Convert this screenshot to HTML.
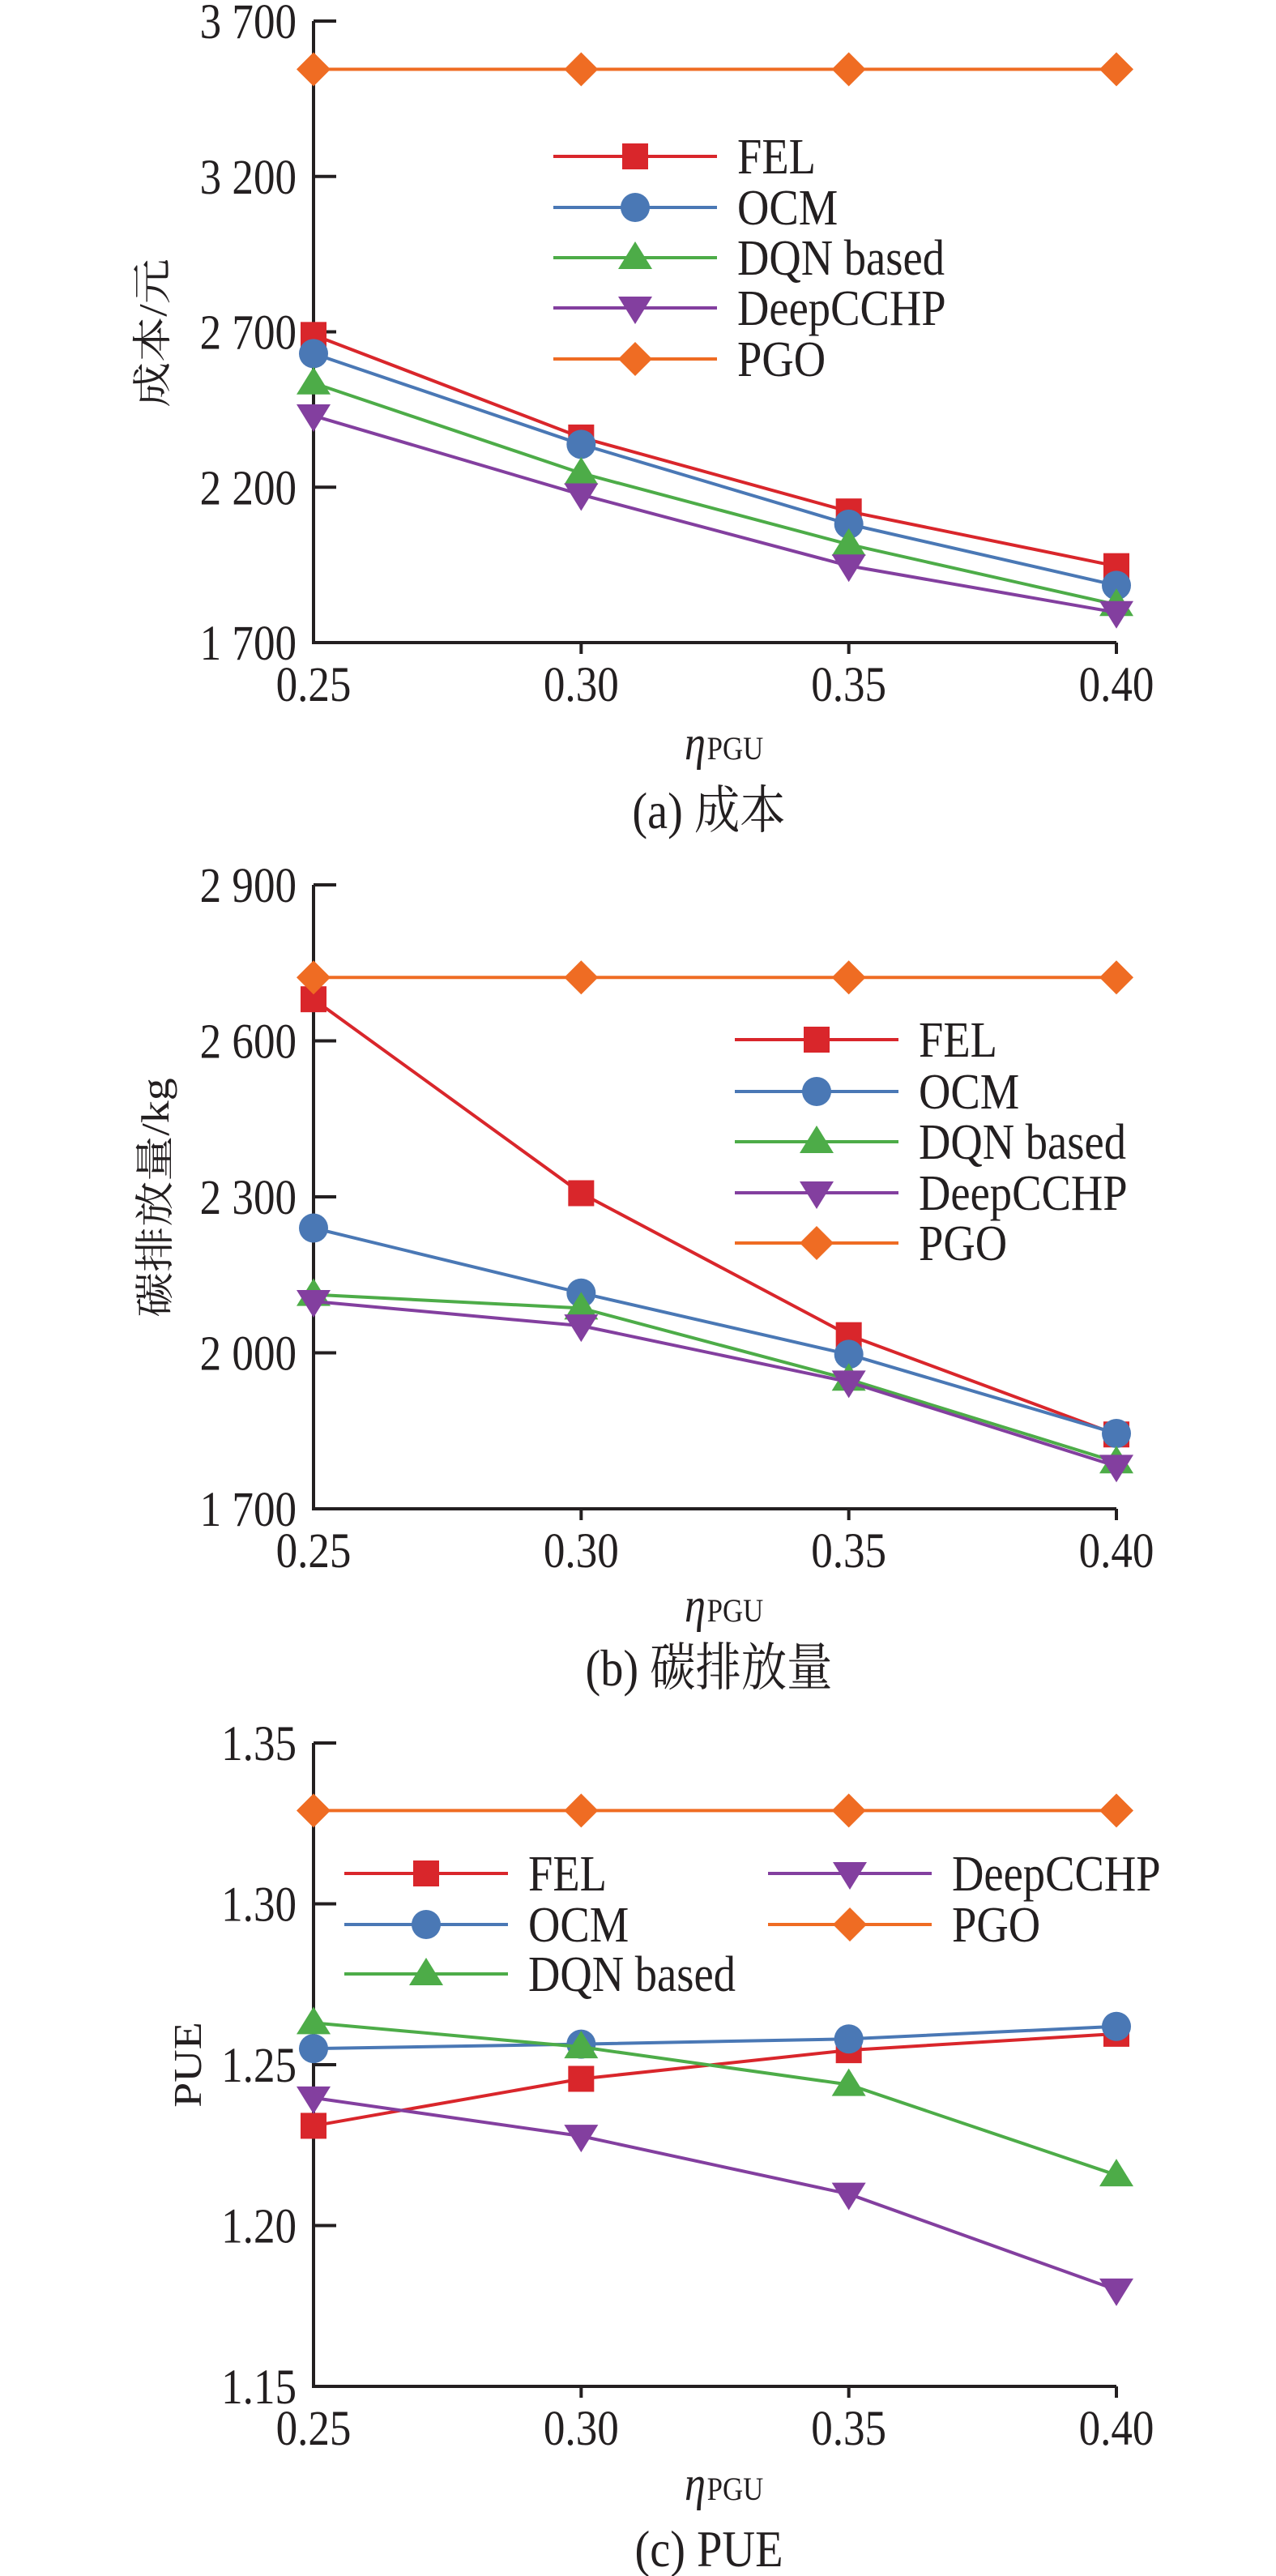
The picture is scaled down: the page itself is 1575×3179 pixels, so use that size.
<!DOCTYPE html>
<html><head><meta charset="utf-8">
<style>
html,body{margin:0;padding:0;background:#fff;}
svg{display:block;}
text{font-family:"Liberation Serif","Noto Serif CJK SC",serif;fill:#231f20;}
</style></head>
<body>
<svg id="fig" width="1575" height="3179" viewBox="0 0 1575 3179" xmlns="http://www.w3.org/2000/svg" font-family="'Liberation Serif', 'Noto Serif CJK SC', serif"></svg>
<script>
// shared data
const xCats = [0.25, 0.30, 0.35, 0.40];
const xTickLabels = ["0.25", "0.30", "0.35", "0.40"];
const seriesNames = ["FEL", "OCM", "DQN based", "DeepCCHP", "PGO"];

// (a) cost
const costFEL = [2690, 2360, 2122, 1946];
const costOCM = [2630, 2338, 2081, 1884];
const costDQN = [2535, 2245, 2016, 1822];
const costDeep = [2430, 2176, 1947, 1797];
const costPGO = [3545, 3545, 3545, 3545];
const costTicks = [1700, 2200, 2700, 3200, 3700];
const costTickLabels = ["1 700", "2 200", "2 700", "3 200", "3 700"];

// (b) carbon
const carbFEL = [2680, 2307, 2034, 1843];
const carbOCM = [2240, 2115, 1997, 1845];
const carbDQN = [2112, 2086, 1949, 1790];
const carbDeep = [2099, 2052, 1944, 1782];
const carbPGO = [2722, 2722, 2722, 2722];
const carbTicks = [1700, 2000, 2300, 2600, 2900];
const carbTickLabels = ["1 700", "2 000", "2 300", "2 600", "2 900"];

// (c) PUE
const pueFEL = [1.231, 1.2456, 1.2545, 1.2596];
const pueOCM = [1.255, 1.2564, 1.258, 1.2619];
const pueDQN = [1.263, 1.2555, 1.2438, 1.2157];
const pueDeep = [1.2397, 1.2278, 1.2098, 1.180];
const puePGO = [1.329, 1.329, 1.329, 1.329];
const pueTicks = [1.15, 1.20, 1.25, 1.30, 1.35];
const pueTickLabels = ["1.15", "1.20", "1.25", "1.30", "1.35"];

const NS = "http://www.w3.org/2000/svg";
const svg = document.getElementById("fig");
const colors = ["#d9262b", "#4a78b5", "#4dac48", "#833f9f", "#ef6c23"];
const markers = ["square", "circle", "up", "down", "diamond"];
const slugs = ["fel", "ocm", "dqn", "deepcchp", "pgo"];
const FONT = "'Liberation Serif', 'Noto Serif CJK SC', serif";

function mk(tag, attrs, parent) {
  const e = document.createElementNS(NS, tag);
  for (const k in attrs) e.setAttribute(k, attrs[k]);
  (parent || svg).appendChild(e);
  return e;
}
function txt(parent, x, y, str, size, anchor, sx) {
  const t = mk("text", {x: 0, y: 0, "font-size": size, "text-anchor": anchor || "start", "font-family": FONT,
    transform: `translate(${x},${y}) scale(${sx || 0.87},1)`}, parent);
  t.textContent = str;
  return t;
}
function marker(g, type, cx, cy, color) {
  let e;
  if (type === "square") e = mk("rect", {x: cx - 16, y: cy - 16, width: 32, height: 32, fill: color}, g);
  else if (type === "circle") e = mk("ellipse", {cx: cx, cy: cy, rx: 18, ry: 18, fill: color}, g);
  else if (type === "up") e = mk("polygon", {points: `${cx},${cy - 20} ${cx + 21},${cy + 14} ${cx - 21},${cy + 14}`, fill: color}, g);
  else if (type === "down") e = mk("polygon", {points: `${cx},${cy + 20} ${cx + 21},${cy - 14} ${cx - 21},${cy - 14}`, fill: color}, g);
  else e = mk("polygon", {points: `${cx},${cy - 21} ${cx + 21},${cy} ${cx},${cy + 21} ${cx - 21},${cy}`, fill: color}, g);
  return e;
}

function drawChart(cfg) {
  const g = mk("g", {});
  
  
  const x0 = 387, x1 = 1378;
  const xs = i => x0 + (x1 - x0) * (xCats[i] - xCats[0]) / (xCats[xCats.length - 1] - xCats[0]);
  const ymin = cfg.ticks[0], ymax = cfg.ticks[cfg.ticks.length - 1];
  const ys = v => cfg.bottom - (cfg.bottom - cfg.top) * (v - ymin) / (ymax - ymin);
  const ax = mk("path", {d: `M${x0},${cfg.top} V${cfg.bottom} H${x1}`, fill: "none", stroke: "#231f20", "stroke-width": 4}, g);
  
  
  cfg.ticks.forEach((t, i) => {
    const y = ys(t);
    const tk = mk("line", {x1: x0, y1: y, x2: x0 + 28, y2: y, stroke: "#231f20", "stroke-width": 4}, g);
    
    
    const lb = txt(g, 366, y + 21, cfg.tickLabels[i], 61, "end");
    
    
  });
  xCats.forEach((c, i) => {
    const x = xs(i);
    if (i > 0) {
      const tk = mk("line", {x1: x, y1: cfg.bottom, x2: x, y2: cfg.bottom + 14, stroke: "#231f20", "stroke-width": 4}, g);
      
      
    }
    const lb = txt(g, x, cfg.bottom + 72, xTickLabels[i], 61, "middle");
    
    
  });
  cfg.series.forEach((vals, s) => {
    const sg = mk("g", {}, g);
    
    
    const pts = vals.map((v, i) => `${xs(i)},${ys(v)}`).join(" ");
    mk("polyline", {points: pts, fill: "none", stroke: colors[s], "stroke-width": 4}, sg);
    vals.forEach((v, i) => {
      const m = marker(sg, markers[s], xs(i), ys(v), colors[s]);
      
      
    });
  });
  const lg = mk("g", {}, g);
  
  
  cfg.legend.forEach((p, s) => {
    const eg = mk("g", {}, lg);
    
    
    mk("line", {x1: p[0], y1: p[1], x2: p[0] + 202, y2: p[1], stroke: colors[s], "stroke-width": 4}, eg);
    marker(eg, markers[s], p[0] + 101, p[1], colors[s]);
    txt(eg, p[0] + 227, p[1] + 21, seriesNames[s], 62, "start", 0.88);
  });
  const yt = mk("text", {x: 0, y: 0, "text-anchor": "middle", "font-size": 56, "font-family": FONT,
    transform: `translate(${cfg.ytX},${cfg.ytY}) rotate(-90) scale(1,0.87)`}, g);
  yt.textContent = cfg.yTitle;
  
  
  const xt = mk("text", {x: 0, y: 0, "font-size": 60, "font-family": FONT, transform: `translate(845,${cfg.xtY}) scale(0.87,1)`}, g);
  
  
  const eta = mk("tspan", {"font-style": "italic"}, xt); eta.textContent = "η";
  const sub = mk("tspan", {"font-size": 40, dx: 2}, xt); sub.textContent = "PGU";
  const cp = txt(g, 875, cfg.capY, cfg.caption, 64, "middle", 0.88);
  
  
}

drawChart({name: "chart-cost", top: 26, bottom: 793, ticks: costTicks, tickLabels: costTickLabels,
  series: [costFEL, costOCM, costDQN, costDeep, costPGO],
  legend: [[683,193],[683,256],[683,318],[683,380],[683,443]],
  yTitle: "成本/元", ytX: 205, ytY: 411, xtY: 937, capY: 1022, caption: "(a) 成本"});
drawChart({name: "chart-carbon", top: 1092, bottom: 1862, ticks: carbTicks, tickLabels: carbTickLabels,
  series: [carbFEL, carbOCM, carbDQN, carbDeep, carbPGO],
  legend: [[907,1283],[907,1347],[907,1409],[907,1472],[907,1534]],
  yTitle: "碳排放量/kg", ytX: 208, ytY: 1478, xtY: 2001, capY: 2080, caption: "(b) 碳排放量"});
drawChart({name: "chart-pue", top: 2151, bottom: 2945, ticks: pueTicks, tickLabels: pueTickLabels,
  series: [pueFEL, pueOCM, pueDQN, pueDeep, puePGO],
  legend: [[425,2312],[425,2375],[425,2436],[948,2312],[948,2375]],
  yTitle: "PUE", ytX: 248, ytY: 2548, xtY: 3085, capY: 3167, caption: "(c) PUE"});
</script>
</body></html>
